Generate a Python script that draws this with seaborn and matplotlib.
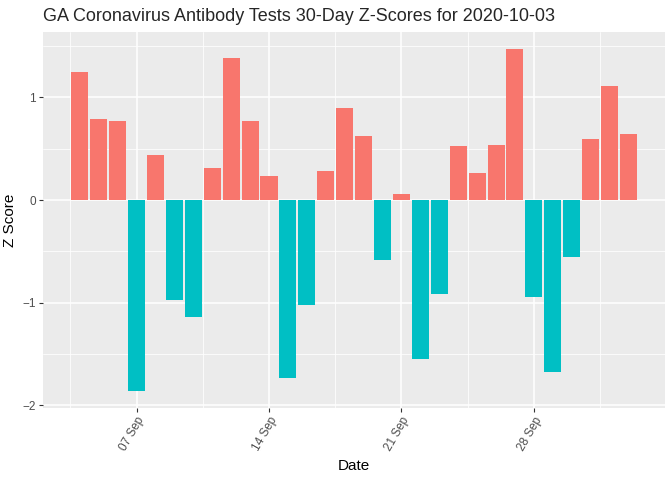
import pandas as pd
import matplotlib
matplotlib.use("Agg")
import matplotlib.pyplot as plt
import matplotlib.dates as mdates
import seaborn as sns
import numpy as np

# Daily z-scores, 2020-09-04 .. 2020-10-03
start_date = "2020-09-04"
z_scores = [1.25, 0.79, 0.77, -1.86, 0.44, -0.97, -1.14, 0.31, 1.38, 0.77,
            0.23, -1.73, -1.02, 0.28, 0.90, 0.62, -0.58, 0.06, -1.55, -0.92,
            0.53, 0.26, 0.54, 1.47, -0.94, -1.68, -0.55, 0.60, 1.11, 0.64]

dates = pd.date_range(start_date, periods=len(z_scores), freq="D")
df = pd.DataFrame({"Date": dates, "Z": z_scores})
df["x"] = mdates.date2num(df["Date"])
df["sign"] = np.where(df["Z"] >= 0, "pos", "neg")

sns.set_theme(style="darkgrid", rc={
    "axes.facecolor": "#EBEBEB",
    "grid.color": "white",
    "axes.edgecolor": "#EBEBEB",
})
plt.rcParams["font.family"] = ["Liberation Sans", "DejaVu Sans"]

fig, ax = plt.subplots(figsize=(6.72, 4.8), dpi=100)
fig.subplots_adjust(left=0.064, right=0.99, top=0.933, bottom=0.15)

sns.barplot(data=df, x="x", y="Z", hue="sign", native_scale=True,
            palette={"pos": "#F8766D", "neg": "#00BFC4"}, dodge=False,
            width=0.9, legend=False, saturation=1, ax=ax, zorder=3)
for p in ax.patches:
    p.set_edgecolor("none")

# ggplot-like limits (5% expansion)
xmin = df["x"].min() - 0.45
xmax = df["x"].max() + 0.45
xr = xmax - xmin
ax.set_xlim(xmin - 0.05 * xr, xmax + 0.05 * xr)
ylo = min(0, df["Z"].min())
yhi = max(0, df["Z"].max())
yr = yhi - ylo
ax.set_ylim(ylo - 0.05 * yr, yhi + 0.05 * yr)

ax.xaxis.set_major_locator(mdates.DayLocator(bymonthday=[7, 14, 21, 28]))
ax.xaxis.set_major_formatter(mdates.DateFormatter("%d %b"))
minor_x = mdates.date2num(pd.to_datetime(["2020-09-03 12:00", "2020-09-10 12:00",
                                          "2020-09-17 12:00", "2020-09-24 12:00",
                                          "2020-10-01 12:00"]))
ax.set_xticks(minor_x, minor=True)
ax.set_yticks([-2, -1, 0, 1])
ax.set_yticks([-1.5, -0.5, 0.5, 1.5], minor=True)
ax.grid(which="major", color="white", linewidth=1.1, zorder=0)
ax.grid(which="minor", color="white", linewidth=0.55, zorder=0)
ax.set_axisbelow(True)

ax.tick_params(axis="both", which="major", length=3, width=0.8, color="#333333",
               labelsize=8.5, labelcolor="#4D4D4D", pad=2, bottom=True, left=True)
ax.tick_params(axis="both", which="minor", length=0)
for lab in ax.get_xticklabels():
    lab.set_rotation(60)
    lab.set_ha("right")
    lab.set_va("top")
    lab.set_rotation_mode("anchor")

ax.set_xlabel("Date", fontsize=11, color="black")
ax.set_ylabel("Z Score", fontsize=11, color="black")
ax.set_title("GA Coronavirus Antibody Tests 30-Day Z-Scores for 2020-10-03",
             fontsize=13, loc="left", x=0.0, pad=8)
for s in ax.spines.values():
    s.set_visible(False)

fig.savefig("out.png", dpi=100)
